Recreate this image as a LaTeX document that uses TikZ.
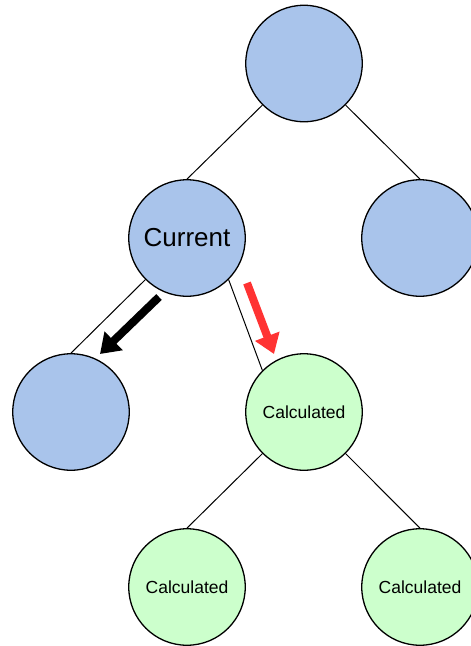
\documentclass[tikz,border=0pt]{standalone}
\usepackage{fontspec}
\setmainfont{Liberation Sans}
\usetikzlibrary{arrows.meta}
\definecolor{nodeblue}{HTML}{A9C4EB}
\definecolor{nodegreen}{HTML}{CCFFCC}
\definecolor{arrowred}{HTML}{FF3333}
\tikzset{
  treenode/.style={circle, draw=black, line width=1.3pt, minimum size=116.5pt, inner sep=0pt, text=black},
  bluenode/.style={treenode, fill=nodeblue},
  greennode/.style={treenode, fill=nodegreen, font=\fontsize{17.5}{20}\selectfont},
  edge/.style={draw=black, line width=1pt},
  bigarrow/.style={line width=8pt, -{Triangle[width=25pt,length=19pt]}}
}
\begin{document}
\begin{tikzpicture}[x=1pt,y=-1pt]
\useasboundingbox (0,0) rectangle (471,646);
\clip (0,0) rectangle (471,646);
\fill[white] (0,0) rectangle (471,646);
\node[bluenode] (root) at (304,63.5) {};
\node[bluenode, font=\fontsize{26}{30}\selectfont] (cur) at (187,238) {Current};
\node[bluenode] (rr) at (420,238) {};
\node[bluenode] (ll) at (71,412) {};
\node[greennode] (calc) at (304,412) {Calculated};
\node[greennode] (cl) at (187,587) {Calculated};
\node[greennode] (cr) at (420,587) {Calculated};
\draw[edge] (root.south west) -- (cur.north);
\draw[edge] (root.south east) -- (rr.north);
\draw[edge] (cur.south west) -- (ll.north);
\draw[edge] (cur.south east) -- (calc.north west);
\draw[edge] (calc.south west) -- (cl.north);
\draw[edge] (calc.south east) -- (cr.north);
\coordinate (ba) at (159,297);
\coordinate (bb) at (100,354);
\coordinate (ra) at (247,283);
\coordinate (rb) at (274,354);
\draw[bigarrow, black] (ba) -- (bb);
\draw[bigarrow, arrowred] (ra) -- (rb);
\end{tikzpicture}
\end{document}
